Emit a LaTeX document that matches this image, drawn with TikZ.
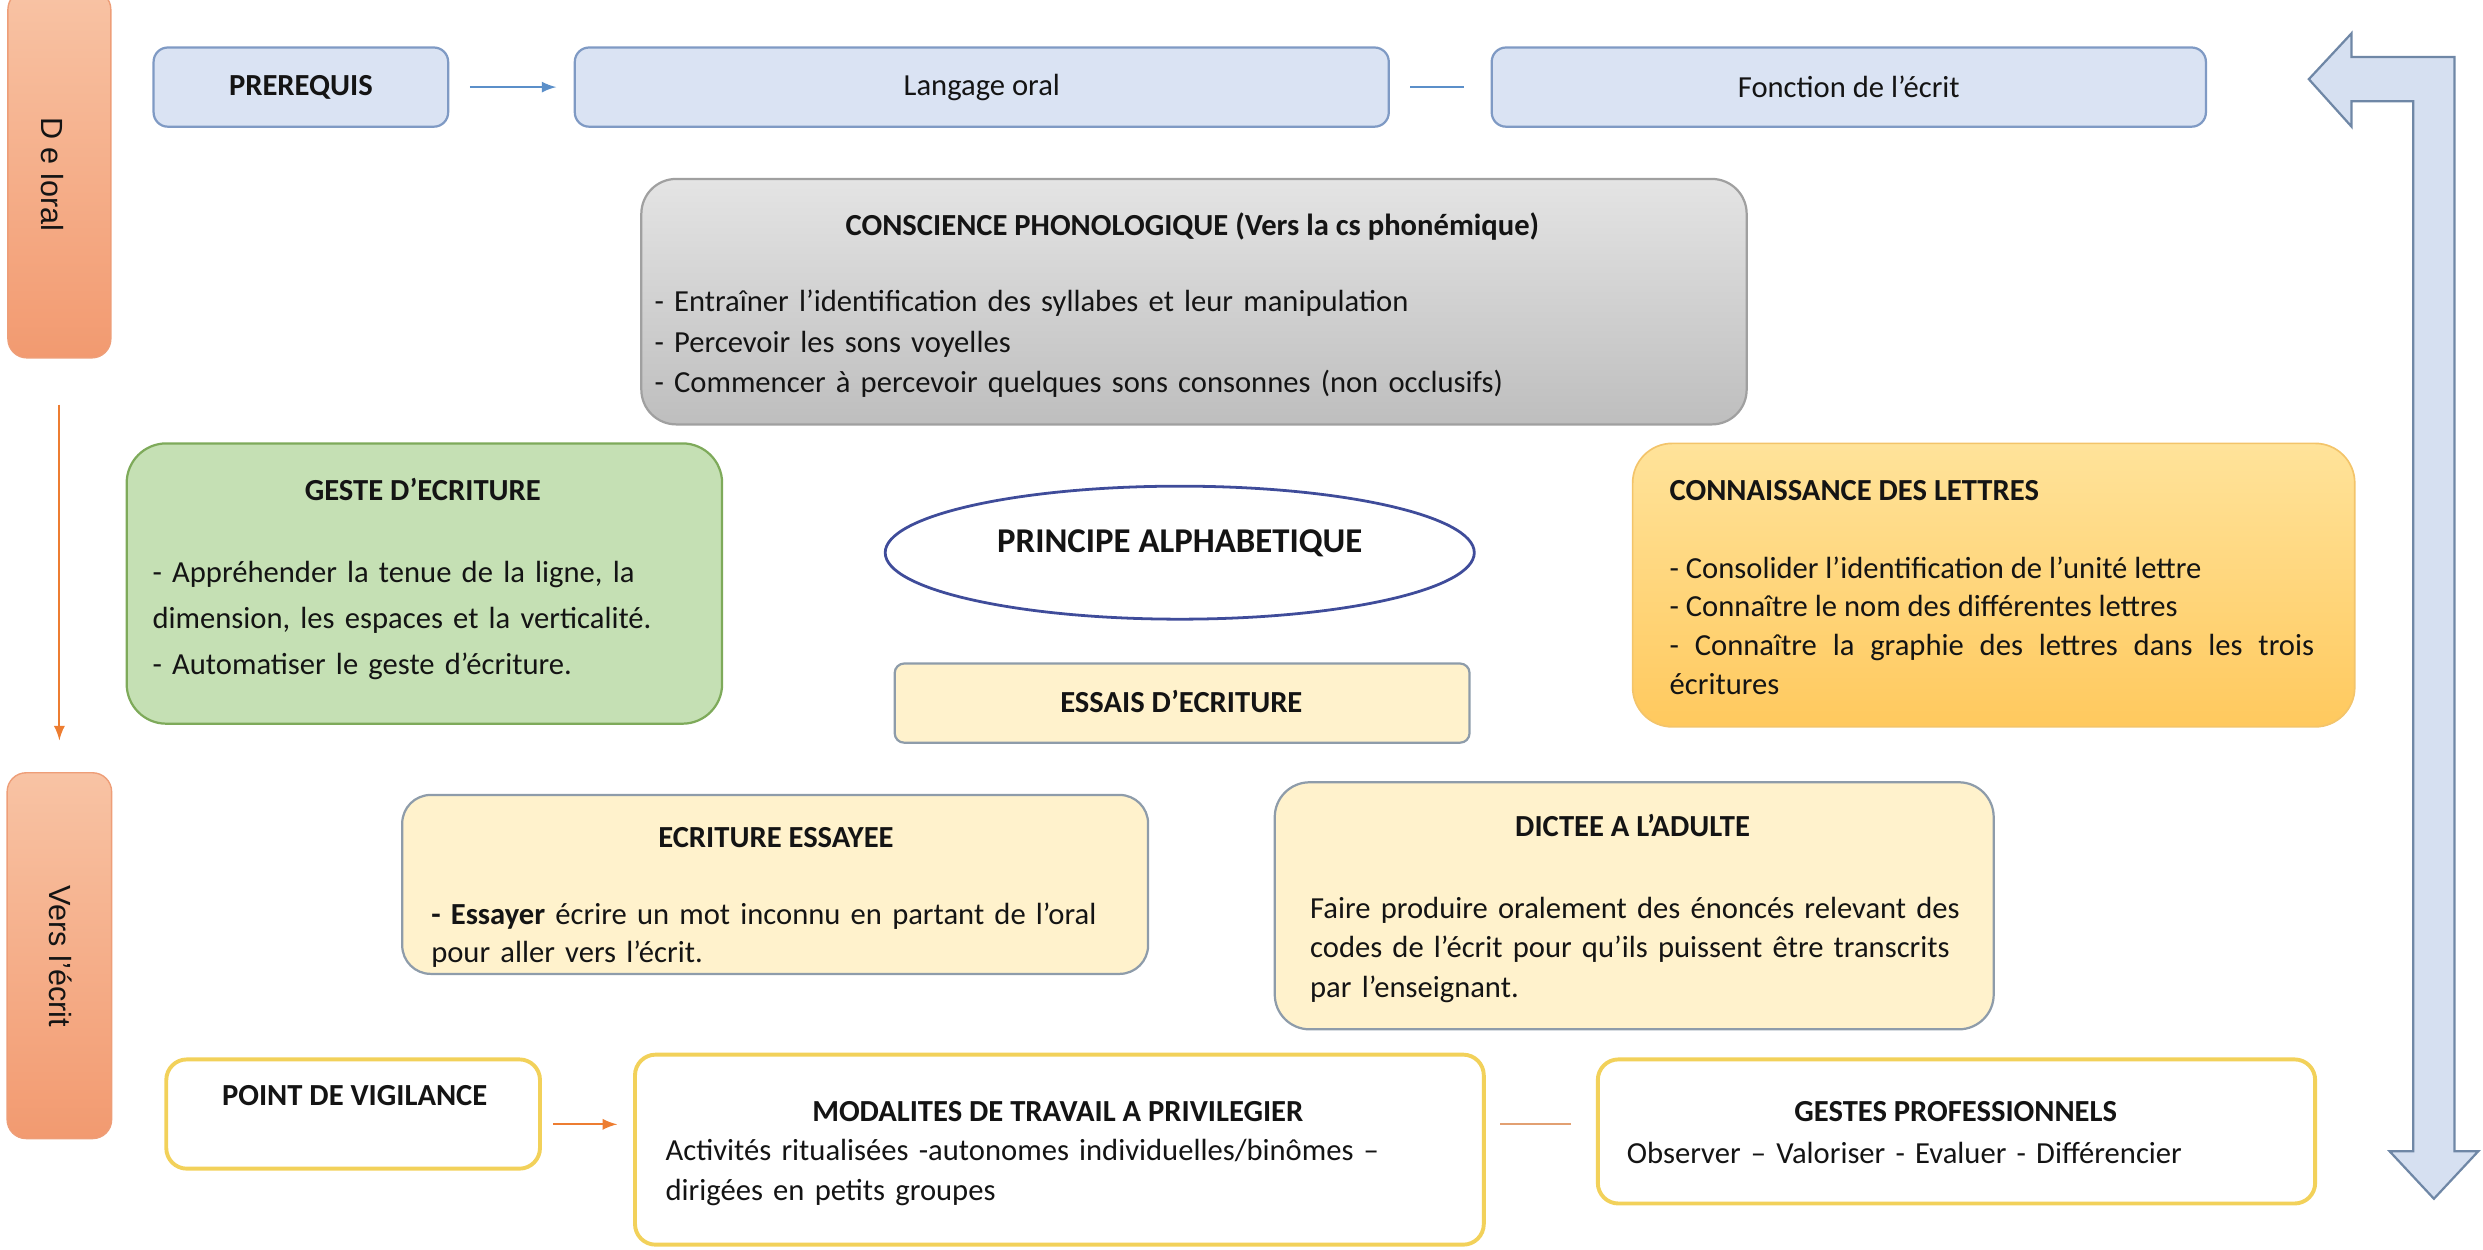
\documentclass[tikz,border=0pt]{standalone}
\usepackage{fontspec}
\setmainfont{Carlito}
\newfontfamily\barfont{Liberation Sans}
\usetikzlibrary{shapes.geometric}

\definecolor{bluefill}{HTML}{DAE3F3}
\definecolor{blueline}{HTML}{7F9AC4}
\definecolor{bluearrow}{HTML}{5B8FC9}
\definecolor{orangearrow}{HTML}{ED7D31}
\definecolor{orangeline}{HTML}{E2A072}
\definecolor{barTop}{HTML}{F8C3A4}
\definecolor{barBot}{HTML}{F29A70}
\definecolor{barline}{HTML}{EE9E78}
\definecolor{greyTop}{HTML}{E4E4E4}
\definecolor{greyBot}{HTML}{BEBEBE}
\definecolor{greyline}{HTML}{A0A0A0}
\definecolor{greenfill}{HTML}{C5E0B4}
\definecolor{greenline}{HTML}{7EAA5A}
\definecolor{goldTop}{HTML}{FFE39A}
\definecolor{goldBot}{HTML}{FFC95E}
\definecolor{goldline}{HTML}{F3C46A}
\definecolor{creamfill}{HTML}{FFF2CC}
\definecolor{creamline}{HTML}{8E9CAA}
\definecolor{yellowline}{HTML}{F2D15A}
\definecolor{ovalline}{HTML}{3F4C9A}
\definecolor{uarrowfill}{HTML}{D6E0F1}
\definecolor{uarrowline}{HTML}{6F87A6}

\begin{document}
\begin{tikzpicture}[x=0.2mm,y=-0.2mm,
    every node/.style={inner sep=0pt,font=\fontsize{11}{14}\selectfont,text=black!92},
    bluebox/.style={draw=blueline,fill=bluefill,line width=0.8pt,rounded corners=1.8mm,minimum height=10mm},
    sidebar/.style={draw=barline,top color=barTop,bottom color=barBot,line width=0.5pt,rounded corners=2.4mm},
    creambox/.style={draw=creamline,fill=creamfill,line width=0.8pt},
    watchbox/.style={draw=yellowline,fill=white,line width=1.4pt,rounded corners=2.6mm},
    ttl/.style={font=\fontsize{11}{14}\selectfont\bfseries,anchor=base},
    body/.style={anchor=base west,align=left},
    bluearr/.style={-latex,draw=bluearrow,line width=0.8pt},
    orangearr/.style={-latex,draw=orangearrow,line width=0.8pt}]

    \useasboundingbox (0,0) rectangle (1568,789);
    \clip (0,0) rectangle (1568,789);

    % side bars
    \node[sidebar,minimum width=13mm,minimum height=46.4mm] (oral) at (37.5,110) {};
    \node[rotate=-90,font=\barfont\fontsize{11}{13}\selectfont] (oraltxt) at (33,110) {D e loral};
    \node[sidebar,minimum width=13.2mm,minimum height=46.2mm] (ecrit) at (37.5,603.5) {};
    \node[rotate=-90,font=\barfont\fontsize{11}{13}\selectfont] (ecrittxt) at (38,604) {Vers l’écrit};
    \draw[orangearr,shorten <=5.8mm,shorten >=4mm] (oral) -- (ecrit);

    % top row
    \node[bluebox,minimum width=37.2mm] (prereq) at (190,55) {\bfseries PREREQUIS};
    \node[bluebox,minimum width=102.8mm] (langage) at (620,55) {Langage oral};
    \node[bluebox,minimum width=90.2mm] (fonction) at (1167.5,55) {Fonction de l’écrit};
    \draw[bluearr,shorten <=2.6mm,shorten >=2.2mm] (prereq) -- (langage);
    \draw[draw=bluearrow,line width=0.8pt,shorten <=2.6mm,shorten >=3.4mm] (langage) -- (fonction);

    % conscience phonologique
    \node[draw=greyline,top color=greyTop,bottom color=greyBot,line width=0.8pt,rounded corners=4.4mm,
          minimum width=139.6mm,minimum height=31mm] (phono) at (754,190.5) {};
    \node[ttl] (phonottl) at (753,149) {CONSCIENCE PHONOLOGIQUE (Vers la cs phonémique)};
    \node[body,text width=130mm,font=\fontsize{11}{14.5}\selectfont] (phonotxt) at (413,197)
        {- Entraîner l’identification des syllabes et leur manipulation\\
         - Percevoir les sons voyelles\\
         - Commencer à percevoir quelques sons consonnes (non occlusifs)};

    % geste d'ecriture
    \node[draw=greenline,fill=greenfill,line width=0.8pt,rounded corners=5mm,
          minimum width=75.2mm,minimum height=35.4mm] (geste) at (268,368.5) {};
    \node[ttl] (gestettl) at (267,316) {GESTE D’ECRITURE};
    \node[body,text width=68mm,font=\fontsize{11}{16.5}\selectfont] (gestetxt) at (96,368)
        {- Appréhender la tenue de la ligne, la\\
         dimension, les espaces et la verticalité.\\
         - Automatiser le geste d’écriture.};

    % principe alphabetique
    \node[ellipse,draw=ovalline,fill=white,line width=1pt,minimum width=74.4mm,minimum height=16.8mm] (principe) at (745,349) {};
    \node[font=\fontsize{12.5}{15}\selectfont\bfseries] (principetxt) at (745,343) {PRINCIPE ALPHABETIQUE};
    \node[creambox,rounded corners=1.2mm,minimum width=72.6mm,minimum height=10mm] (essais) at (746.5,444) {};
    \node[font=\fontsize{11}{14}\selectfont\bfseries] (essaistxt) at (746,443) {ESSAIS D’ECRITURE};

    % connaissance des lettres
    \node[draw=goldline,top color=goldTop,bottom color=goldBot,line width=0.6pt,rounded corners=5mm,
          minimum width=91.2mm,minimum height=35.8mm] (lettres) at (1259,369.5) {};
    \node[ttl,anchor=base west] (lettresttl) at (1054,316) {CONNAISSANCE DES LETTRES};
    \node[body,align=justify,text width=81.4mm,font=\fontsize{11}{13.9}\selectfont] (lettrestxt) at (1054,365)
        {- Consolider l’identification de l’unité lettre\\
         - Connaître le nom des différentes lettres\\
         - Connaître la graphie des lettres dans les trois\linebreak écritures};

    % ecriture essayee, dictee
    \node[creambox,rounded corners=3.6mm,minimum width=94.2mm,minimum height=22.6mm] (essayee) at (489.5,558.5) {};
    \node[ttl] (essayeettl) at (490,535) {ECRITURE ESSAYEE};
    \node[body,text width=90mm,font=\fontsize{11}{13.7}\selectfont] (essayeetxt) at (272,584)
        {\textbf{- Essayer} écrire un mot inconnu en partant de l’oral\\
         pour aller vers l’écrit.};
    \node[creambox,rounded corners=4.4mm,minimum width=90.8mm,minimum height=31.2mm] (dictee) at (1032,572) {};
    \node[ttl] (dicteettl) at (1031,528) {DICTEE A L’ADULTE};
    \node[body,text width=86mm,font=\fontsize{11}{14.2}\selectfont] (dicteetxt) at (827,580)
        {Faire produire oralement des énoncés relevant des\\
         codes de l’écrit pour qu’ils puissent être transcrits\\
         par l’enseignant.};

    % bottom row
    \node[watchbox,minimum width=47.2mm,minimum height=13.8mm] (vigil) at (223,703.5) {};
    \node[font=\fontsize{11}{14}\selectfont\bfseries] (vigiltxt) at (224,692) {POINT DE VIGILANCE};
    \node[watchbox,minimum width=107.2mm,minimum height=24mm] (modal) at (669,726) {};
    \node[ttl] (modalttl) at (668,708) {MODALITES DE TRAVAIL A PRIVILEGIER};
    \node[body,text width=100mm,font=\fontsize{11}{14.2}\selectfont] (modaltxt) at (420,733)
        {Activités ritualisées -autonomes individuelles/binômes –\\
         dirigées en petits groupes};
    \node[watchbox,minimum width=90.6mm,minimum height=18.2mm] (gestes) at (1235.5,714.5) {};
    \node[ttl] (gestesttl) at (1235,708) {GESTES PROFESSIONNELS};
    \node[body,text width=86mm] (gestestxt) at (1027,735) {Observer – Valoriser - Evaluer - Différencier};
    \draw[orangearr,shorten <=1.4mm,shorten >=2mm] ([yshift=-1.3mm]vigil.east) -- ([yshift=-1.3mm]vigil.east -| modal.west);
    \draw[draw=orangeline,line width=0.8pt,shorten <=1.8mm,shorten >=3.2mm] ([yshift=3.2mm]modal.east) -- ([yshift=3.2mm]modal.east -| gestes.west);

    % big return arrow
    \draw[draw=uarrowline,fill=uarrowfill,line width=0.8pt]
        (1458,50) -- (1485,21) -- (1485,36) -- (1550,36) -- (1550,727) -- (1565,727)
        -- (1537,757) -- (1509,727) -- (1524,727) -- (1524,64) -- (1485,64) -- (1485,80) -- cycle;

\end{tikzpicture}
\end{document}
